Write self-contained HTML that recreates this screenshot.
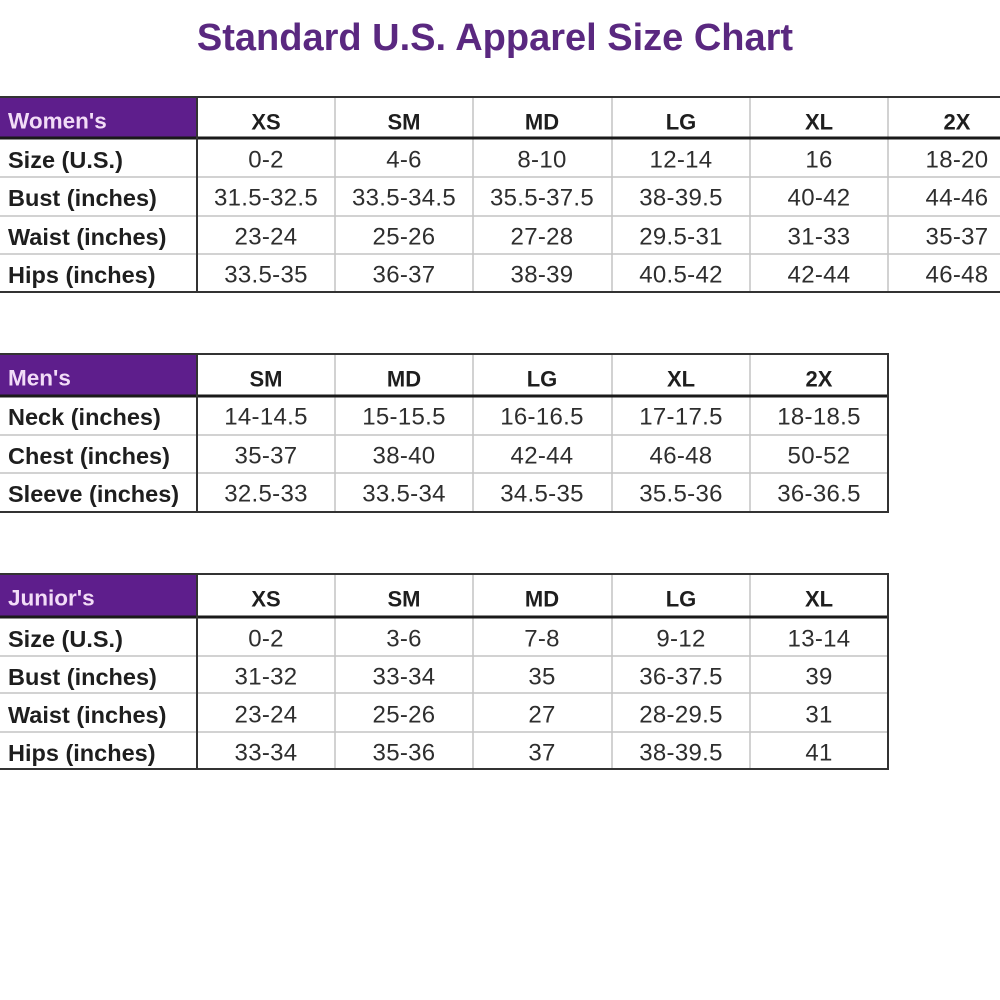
<!DOCTYPE html>
<html><head><meta charset="utf-8"><style>
html,body{margin:0;padding:0;background:#fff;width:1000px;height:1000px;overflow:hidden}
svg{display:block}
.t{font-family:"Liberation Sans",sans-serif;font-weight:bold;font-size:38px;fill:#5a2880}
.h{font-family:"Liberation Sans",sans-serif;font-weight:bold;font-size:22px;fill:#1e1e1e}
.p{font-family:"Liberation Sans",sans-serif;font-weight:bold;font-size:22.5px;fill:#f2dcf7}
.l{font-family:"Liberation Sans",sans-serif;font-weight:bold;font-size:23.5px;fill:#1e1e1e}
.d{font-family:"Liberation Sans",sans-serif;font-size:24px;letter-spacing:0.3px;fill:#2e2e2e}
.g{stroke:#c4c4c4;stroke-width:1.5}
.k{stroke:#333;stroke-width:2}
.K{stroke:#1a1a1a;stroke-width:3}
</style></head><body>
<svg width="1000" height="1000" viewBox="0 0 1000 1000" xmlns="http://www.w3.org/2000/svg">
<text class="t" x="495" y="38" text-anchor="middle" dominant-baseline="central">Standard U.S. Apparel Size Chart</text>

<!-- WOMEN'S -->
<rect x="0" y="97" width="197" height="40" fill="#5e1e8c"/>
<g>
<line class="g" x1="0" y1="177" x2="1000" y2="177"/>
<line class="g" x1="0" y1="216" x2="1000" y2="216"/>
<line class="g" x1="0" y1="254" x2="1000" y2="254"/>
<line class="g" x1="335" y1="97" x2="335" y2="292"/>
<line class="g" x1="473" y1="97" x2="473" y2="292"/>
<line class="g" x1="612" y1="97" x2="612" y2="292"/>
<line class="g" x1="750" y1="97" x2="750" y2="292"/>
<line class="g" x1="888" y1="97" x2="888" y2="292"/>
<line class="k" x1="0" y1="97" x2="1000" y2="97"/>
<line class="K" x1="0" y1="138" x2="1000" y2="138"/>
<line class="k" x1="0" y1="292" x2="1000" y2="292"/>
<line class="k" x1="197" y1="97" x2="197" y2="292"/>
</g>
<text class="p" x="8" y="121" dominant-baseline="central">Women's</text>
<g class="h" text-anchor="middle">
<text x="266" y="122" dominant-baseline="central">XS</text>
<text x="404" y="122" dominant-baseline="central">SM</text>
<text x="542" y="122" dominant-baseline="central">MD</text>
<text x="681" y="122" dominant-baseline="central">LG</text>
<text x="819" y="122" dominant-baseline="central">XL</text>
<text x="957" y="122" dominant-baseline="central">2X</text>
</g>
<g class="l">
<text x="8" y="160" dominant-baseline="central">Size (U.S.)</text>
<text x="8" y="198" dominant-baseline="central">Bust (inches)</text>
<text x="8" y="237" dominant-baseline="central">Waist (inches)</text>
<text x="8" y="275" dominant-baseline="central">Hips (inches)</text>
</g>
<g class="d" text-anchor="middle">
<text x="266" y="160" dominant-baseline="central">0-2</text>
<text x="404" y="160" dominant-baseline="central">4-6</text>
<text x="542" y="160" dominant-baseline="central">8-10</text>
<text x="681" y="160" dominant-baseline="central">12-14</text>
<text x="819" y="160" dominant-baseline="central">16</text>
<text x="957" y="160" dominant-baseline="central">18-20</text>
<text x="266" y="198" dominant-baseline="central">31.5-32.5</text>
<text x="404" y="198" dominant-baseline="central">33.5-34.5</text>
<text x="542" y="198" dominant-baseline="central">35.5-37.5</text>
<text x="681" y="198" dominant-baseline="central">38-39.5</text>
<text x="819" y="198" dominant-baseline="central">40-42</text>
<text x="957" y="198" dominant-baseline="central">44-46</text>
<text x="266" y="237" dominant-baseline="central">23-24</text>
<text x="404" y="237" dominant-baseline="central">25-26</text>
<text x="542" y="237" dominant-baseline="central">27-28</text>
<text x="681" y="237" dominant-baseline="central">29.5-31</text>
<text x="819" y="237" dominant-baseline="central">31-33</text>
<text x="957" y="237" dominant-baseline="central">35-37</text>
<text x="266" y="275" dominant-baseline="central">33.5-35</text>
<text x="404" y="275" dominant-baseline="central">36-37</text>
<text x="542" y="275" dominant-baseline="central">38-39</text>
<text x="681" y="275" dominant-baseline="central">40.5-42</text>
<text x="819" y="275" dominant-baseline="central">42-44</text>
<text x="957" y="275" dominant-baseline="central">46-48</text>
</g>

<!-- MEN'S -->
<rect x="0" y="354" width="197" height="41" fill="#5e1e8c"/>
<g>
<line class="g" x1="0" y1="435" x2="888" y2="435"/>
<line class="g" x1="0" y1="473" x2="888" y2="473"/>
<line class="g" x1="335" y1="354" x2="335" y2="512"/>
<line class="g" x1="473" y1="354" x2="473" y2="512"/>
<line class="g" x1="612" y1="354" x2="612" y2="512"/>
<line class="g" x1="750" y1="354" x2="750" y2="512"/>
<line class="k" x1="0" y1="354" x2="888" y2="354"/>
<line class="K" x1="0" y1="396" x2="888" y2="396"/>
<line class="k" x1="0" y1="512" x2="888" y2="512"/>
<line class="k" x1="197" y1="354" x2="197" y2="512"/>
<line class="k" x1="888" y1="353" x2="888" y2="513"/>
</g>
<text class="p" x="8" y="378" dominant-baseline="central">Men's</text>
<g class="h" text-anchor="middle">
<text x="266" y="379" dominant-baseline="central">SM</text>
<text x="404" y="379" dominant-baseline="central">MD</text>
<text x="542" y="379" dominant-baseline="central">LG</text>
<text x="681" y="379" dominant-baseline="central">XL</text>
<text x="819" y="379" dominant-baseline="central">2X</text>
</g>
<g class="l">
<text x="8" y="417" dominant-baseline="central">Neck (inches)</text>
<text x="8" y="456" dominant-baseline="central">Chest (inches)</text>
<text x="8" y="494" dominant-baseline="central">Sleeve (inches)</text>
</g>
<g class="d" text-anchor="middle">
<text x="266" y="417" dominant-baseline="central">14-14.5</text>
<text x="404" y="417" dominant-baseline="central">15-15.5</text>
<text x="542" y="417" dominant-baseline="central">16-16.5</text>
<text x="681" y="417" dominant-baseline="central">17-17.5</text>
<text x="819" y="417" dominant-baseline="central">18-18.5</text>
<text x="266" y="456" dominant-baseline="central">35-37</text>
<text x="404" y="456" dominant-baseline="central">38-40</text>
<text x="542" y="456" dominant-baseline="central">42-44</text>
<text x="681" y="456" dominant-baseline="central">46-48</text>
<text x="819" y="456" dominant-baseline="central">50-52</text>
<text x="266" y="494" dominant-baseline="central">32.5-33</text>
<text x="404" y="494" dominant-baseline="central">33.5-34</text>
<text x="542" y="494" dominant-baseline="central">34.5-35</text>
<text x="681" y="494" dominant-baseline="central">35.5-36</text>
<text x="819" y="494" dominant-baseline="central">36-36.5</text>
</g>

<!-- JUNIOR'S -->
<rect x="0" y="574" width="197" height="42" fill="#5e1e8c"/>
<g>
<line class="g" x1="0" y1="656" x2="888" y2="656"/>
<line class="g" x1="0" y1="693" x2="888" y2="693"/>
<line class="g" x1="0" y1="732" x2="888" y2="732"/>
<line class="g" x1="335" y1="574" x2="335" y2="769"/>
<line class="g" x1="473" y1="574" x2="473" y2="769"/>
<line class="g" x1="612" y1="574" x2="612" y2="769"/>
<line class="g" x1="750" y1="574" x2="750" y2="769"/>
<line class="k" x1="0" y1="574" x2="888" y2="574"/>
<line class="K" x1="0" y1="617" x2="888" y2="617"/>
<line class="k" x1="0" y1="769" x2="888" y2="769"/>
<line class="k" x1="197" y1="574" x2="197" y2="769"/>
<line class="k" x1="888" y1="573" x2="888" y2="770"/>
</g>
<text class="p" x="8" y="598" dominant-baseline="central">Junior's</text>
<g class="h" text-anchor="middle">
<text x="266" y="599" dominant-baseline="central">XS</text>
<text x="404" y="599" dominant-baseline="central">SM</text>
<text x="542" y="599" dominant-baseline="central">MD</text>
<text x="681" y="599" dominant-baseline="central">LG</text>
<text x="819" y="599" dominant-baseline="central">XL</text>
</g>
<g class="l">
<text x="8" y="639" dominant-baseline="central">Size (U.S.)</text>
<text x="8" y="677" dominant-baseline="central">Bust (inches)</text>
<text x="8" y="715" dominant-baseline="central">Waist (inches)</text>
<text x="8" y="753" dominant-baseline="central">Hips (inches)</text>
</g>
<g class="d" text-anchor="middle">
<text x="266" y="639" dominant-baseline="central">0-2</text>
<text x="404" y="639" dominant-baseline="central">3-6</text>
<text x="542" y="639" dominant-baseline="central">7-8</text>
<text x="681" y="639" dominant-baseline="central">9-12</text>
<text x="819" y="639" dominant-baseline="central">13-14</text>
<text x="266" y="677" dominant-baseline="central">31-32</text>
<text x="404" y="677" dominant-baseline="central">33-34</text>
<text x="542" y="677" dominant-baseline="central">35</text>
<text x="681" y="677" dominant-baseline="central">36-37.5</text>
<text x="819" y="677" dominant-baseline="central">39</text>
<text x="266" y="715" dominant-baseline="central">23-24</text>
<text x="404" y="715" dominant-baseline="central">25-26</text>
<text x="542" y="715" dominant-baseline="central">27</text>
<text x="681" y="715" dominant-baseline="central">28-29.5</text>
<text x="819" y="715" dominant-baseline="central">31</text>
<text x="266" y="753" dominant-baseline="central">33-34</text>
<text x="404" y="753" dominant-baseline="central">35-36</text>
<text x="542" y="753" dominant-baseline="central">37</text>
<text x="681" y="753" dominant-baseline="central">38-39.5</text>
<text x="819" y="753" dominant-baseline="central">41</text>
</g>
</svg>
</body></html>
